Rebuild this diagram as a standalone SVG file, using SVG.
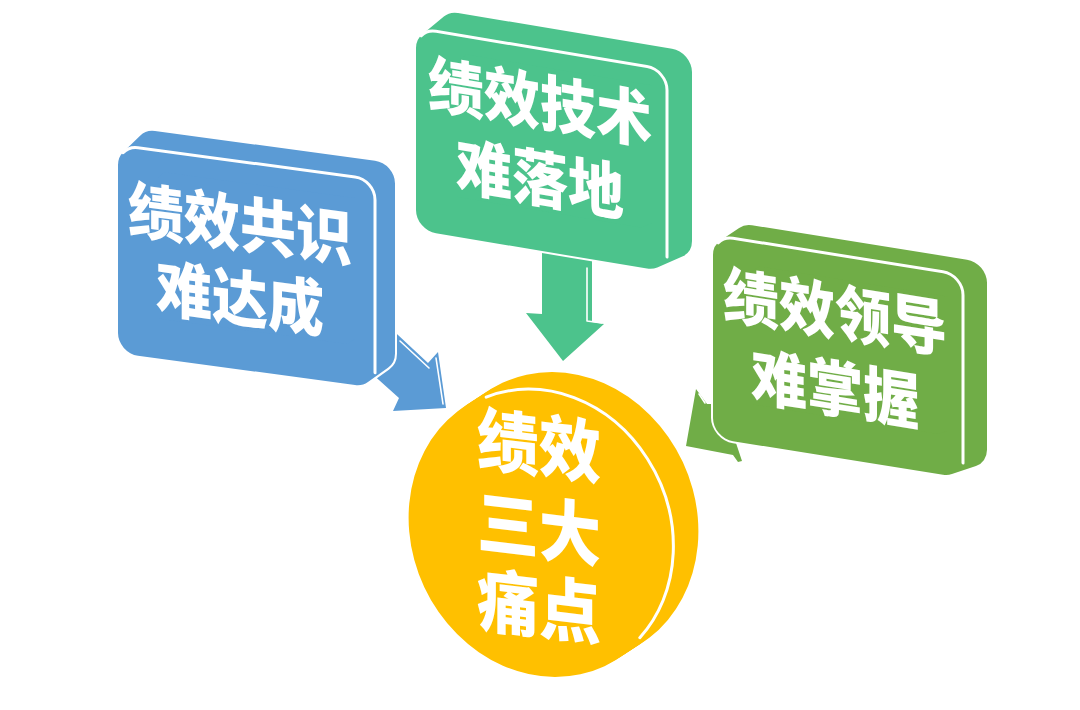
<svg xmlns="http://www.w3.org/2000/svg" xmlns:xlink="http://www.w3.org/1999/xlink" width="1080" height="710" viewBox="0 0 1080 710">
  <style>
    .t { font-family: "Noto Sans CJK SC", "Noto Sans CJK JP", sans-serif; font-weight: 900; fill: #ffffff; text-anchor: middle; }
    .hl { fill: none; stroke: #ffffff; stroke-width: 3; stroke-linecap: round; stroke-linejoin: round; }
    .hl2 { fill: none; stroke: #ffffff; stroke-width: 1.6; stroke-linecap: round; stroke-linejoin: round; }
    .blue { fill: #5B9BD5; }
    .green { fill: #4CC38C; }
    .lime { fill: #70AD47; }
    .gold { fill: #FFC000; }
  </style>
  <defs>
    <ellipse id="disc" cx="0" cy="0" rx="130" ry="148" transform="rotate(-25)"/>
  </defs>
  <rect width="1080" height="710" fill="#ffffff"/>

  <!-- centre disc -->
  <g id="node-center">
    <g class="gold">
      <use xlink:href="#disc" href="#disc" x="565" y="517"/>
      <use xlink:href="#disc" href="#disc" x="560.4" y="520"/>
      <use xlink:href="#disc" href="#disc" x="555.8" y="523"/>
      <use xlink:href="#disc" href="#disc" x="551.2" y="526"/>
      <use xlink:href="#disc" href="#disc" x="546.6" y="529"/>
      <use xlink:href="#disc" href="#disc" x="542" y="532"/>
    </g>
    <g transform="rotate(-25 542 532)">
      <path class="hl" d="M 548.4 386.2 A 128 146 0 0 1 586 669.1"/>
    </g>
    <g transform="translate(539,445) matrix(1,0.12,0,1.12,0,0)">
      <text class="t" font-size="62" x="0" y="23.5">绩效</text>
      <text class="t" font-size="62" x="0" y="97.6">三大</text>
      <text class="t" font-size="62" x="0" y="167.3">痛点</text>
    </g>
  </g>

  <!-- connectors (3D arrows) -->
  <g id="connectors">
    <g id="arrow-blue">
      <polygon class="blue" points="385,322 398,335 428,363 438,352 446,408 393,411 399,398 370,372"/>
      <polyline class="hl2" points="400,341 429,368"/>
      <polyline class="hl2" points="436,358 443,404"/>
    </g>
    <g id="arrow-green">
      <polygon class="green" points="542,240 592,248 592,322 604,324 563,361 526,313 542,314"/>
      <polyline class="hl2" points="587,268 587,321 602,323"/>
    </g>
    <g id="arrow-lime">
      <polygon class="lime" points="696,389 707,404 725,404 735,440 742,461 738,462 733,455 686,446"/>
      <polyline class="hl2" points="699,394 705,403"/>
    </g>
  </g>

  <!-- blue box -->
  <g id="node-consensus" transform="matrix(1,0.135,0,1,118,145)">
    <polygon points="20,20 37,1 257,1 257,171 237,188 20,188" fill="#ffffff" stroke="#ffffff" stroke-width="44" stroke-linejoin="round"/>
    <polygon class="blue" points="20,20 37,1 257,1 257,171 237,188 20,188" stroke="#5B9BD5" stroke-width="40" stroke-linejoin="round"/>
    <path class="hl" d="M 5 7 A 20 20 0 0 1 20 0 H 237 A 20 20 0 0 1 257 20 V 193"/>
    <g transform="translate(122,62) scale(1,1.1)">
      <text class="t" font-size="56" x="0" y="21">绩效共识</text>
      <text class="t" font-size="56" x="0" y="88.7">难达成</text>
    </g>
  </g>

  <!-- green box -->
  <g id="node-technique" transform="matrix(1,0.167,0,1,416,28)">
    <polygon points="20,20 42,-2 256,-2 256,167 231,182 20,182" fill="#ffffff" stroke="#ffffff" stroke-width="44" stroke-linejoin="round"/>
    <polygon class="green" points="20,20 42,-2 256,-2 256,167 231,182 20,182" stroke="#4CC38C" stroke-width="40" stroke-linejoin="round"/>
    <path class="hl" d="M 5 7 A 20 20 0 0 1 20 0 H 231 A 20 20 0 0 1 251 20 V 187"/>
    <g transform="translate(124,53) scale(1,1.1)">
      <text class="t" font-size="56" x="0" y="21">绩效技术</text>
      <text class="t" font-size="56" x="0" y="91">难落地</text>
    </g>
  </g>

  <!-- lime box -->
  <g id="node-leadership" transform="matrix(1,0.16,0,1,713,235)">
    <polygon points="20,20 39,4 254,4 254,171 230,183 20,183" fill="#ffffff" stroke="#ffffff" stroke-width="44" stroke-linejoin="round"/>
    <polygon class="lime" points="20,20 39,4 254,4 254,171 230,183 20,183" stroke="#70AD47" stroke-width="40" stroke-linejoin="round"/>
    <path class="hl" d="M 5 7 A 20 20 0 0 1 20 0 H 230 A 20 20 0 0 1 250 20 V 188"/>
    <g transform="translate(122,57) scale(1,1.1)">
      <text class="t" font-size="56" x="0" y="21">绩效领导</text>
      <text class="t" font-size="56" x="0" y="91">难掌握</text>
    </g>
  </g>
</svg>
